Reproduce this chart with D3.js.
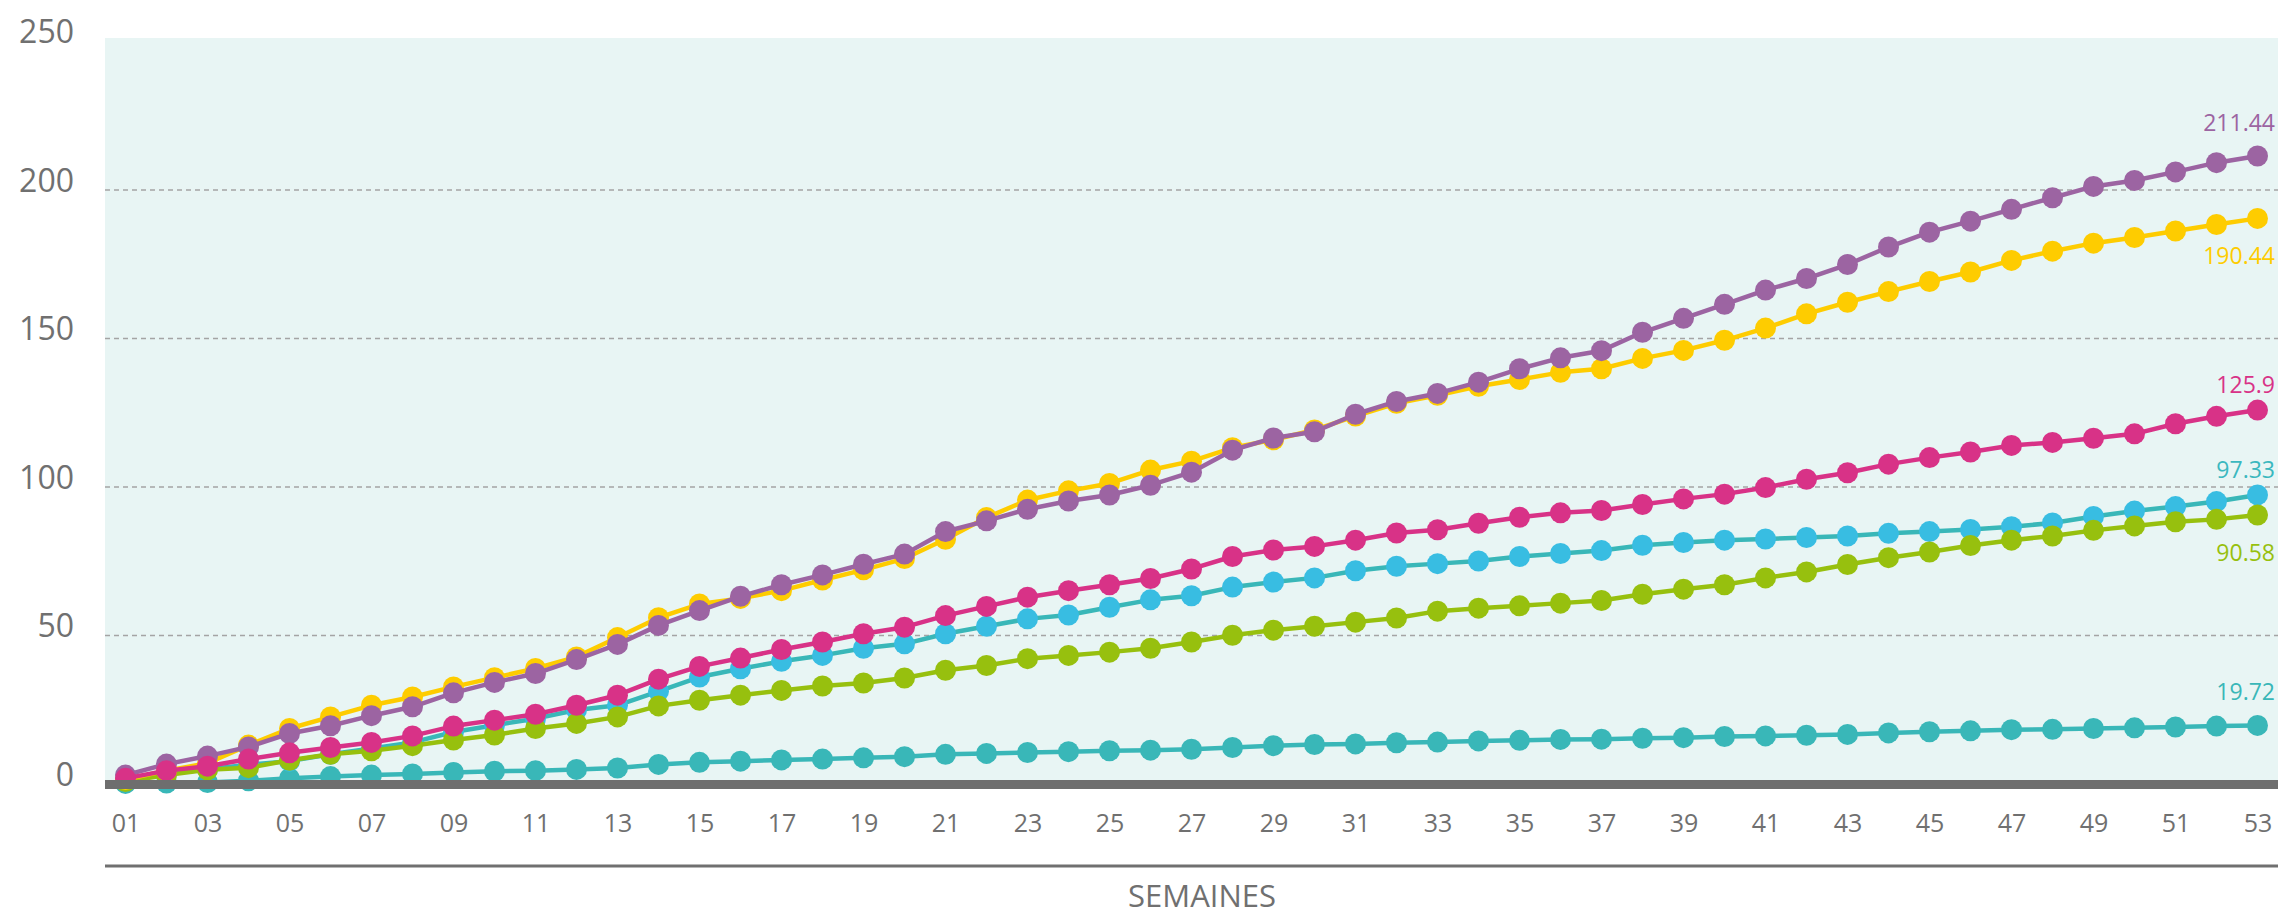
<!DOCTYPE html>
<html>
<head>
<meta charset="utf-8">
<script src="https://cdn.jsdelivr.net/npm/d3@7/dist/d3.min.js"></script>
<style>
  html, body { margin: 0; padding: 0; background: #ffffff; }
  svg { display: block; font-family: "Open Sans", "DejaVu Sans", sans-serif; }
</style>
</head>
<body>
<svg id="chart" width="2278" height="917"></svg>
<script>
// ---------- DATA ----------
const weeks = ["01","02","03","04","05","06","07","08","09","10","11","12","13","14","15","16","17","18","19","20",
  "21","22","23","24","25","26","27","28","29","30","31","32","33","34","35","36","37","38","39","40",
  "41","42","43","44","45","46","47","48","49","50","51","52","53"];
const weekTicks = ["01","03","05","07","09","11","13","15","17","19","21","23","25","27","29","31","33","35",
  "37","39","41","43","45","47","49","51","53"];
const yTicks = [0, 50, 100, 150, 200, 250];
const xAxisTitle = "SEMAINES";

const seriesTeal = [0.2,0.3,0.5,1.1,1.9,2.5,3.0,3.4,3.9,4.3,4.5,4.9,5.4,6.6,7.3,7.7,8.1,8.4,8.8,9.2,
  10.0,10.3,10.6,10.9,11.2,11.4,11.7,12.3,12.9,13.3,13.5,13.9,14.1,14.5,14.7,15.0,15.1,15.4,15.6,16.0,
  16.2,16.4,16.7,17.2,17.6,17.9,18.3,18.4,18.7,18.9,19.2,19.5,19.72];
const seriesBlue = [1.0,3.5,5.0,6.5,7.7,10.0,12.0,14.0,17.5,19.8,22.0,24.9,26.5,31.2,36.0,38.8,41.3,43.3,45.7,47.2,
  50.6,53.1,55.6,56.9,59.5,62.0,63.4,66.3,68.0,69.4,71.8,73.3,74.2,75.1,76.6,77.6,78.6,80.4,81.3,82.1,
  82.5,83.0,83.5,84.4,85.0,85.7,86.6,87.9,90.1,91.9,93.4,95.1,97.33];
const seriesGreen = [0.8,3.0,4.8,5.5,8.0,10.0,11.2,12.9,14.8,16.5,18.7,20.4,22.6,26.3,28.2,29.9,31.5,33.0,34.0,35.7,
  38.3,39.9,42.2,43.3,44.4,45.7,47.8,50.1,51.8,53.1,54.5,55.9,58.2,59.2,60.0,60.9,61.8,63.9,65.6,67.1,
  69.4,71.4,73.9,76.2,78.1,80.3,82.1,83.5,85.4,86.9,88.3,89.1,90.58];
const seriesYellow = [1.5,4.5,7.0,13.1,18.7,22.6,26.5,29.3,32.7,35.8,38.9,42.8,49.3,56.0,60.6,62.5,65.1,68.7,72.1,75.9,
  82.4,89.7,95.6,98.7,101.2,105.7,108.7,113.2,115.9,119.2,123.9,128.2,130.9,133.9,136.2,138.6,139.8,143.3,146.0,149.4,
  153.5,158.3,162.2,165.8,169.2,172.4,176.3,179.4,182.1,184.0,186.2,188.4,190.44];
const seriesPurple = [3.0,6.7,9.4,12.5,17.0,19.6,23.0,26.0,30.7,34.2,37.2,41.9,47.0,53.4,58.4,63.2,67.1,70.4,74.0,77.4,
  85.0,88.6,92.5,95.3,97.3,100.6,105.0,112.4,116.5,118.6,124.5,128.8,131.5,135.3,139.8,143.5,145.9,152.1,156.8,161.5,
  166.3,170.2,174.9,180.8,185.8,189.5,193.5,197.4,201.2,203.2,206.1,209.2,211.44];
const seriesMagenta = [1.9,4.5,6.0,8.4,10.5,12.3,14.0,16.2,19.5,21.5,23.5,26.5,29.9,35.3,39.6,42.4,45.3,47.8,50.6,52.8,
  56.7,59.8,62.9,65.1,67.1,69.2,72.4,76.6,78.8,80.0,82.1,84.5,85.6,87.8,89.8,91.3,92.1,94.1,96.0,97.6,
  99.8,102.6,104.8,107.7,109.9,111.8,114.0,115.0,116.4,117.9,121.3,123.8,125.9];

// ---------- STYLE ----------
const W = 2278, H = 917;
const plot = { left: 105, right: 2278, top: 38, bottom: 784 };
const styles = [
  { values: seriesTeal,    line: "#39b7b8", dot: "#39b7b8", label: "#39b7b8", dy: -25 },
  { values: seriesBlue,    line: "#39b7b8", dot: "#38bde2", label: "#3bb8bf", dy: -17 },
  { values: seriesGreen,   line: "#97c00e", dot: "#97c00e", label: "#97c00e", dy: 46 },
  { values: seriesYellow,  line: "#fecc00", dot: "#fecc00", label: "#fecc00", dy: 46 },
  { values: seriesPurple,  line: "#9c64a2", dot: "#9c64a2", label: "#9c64a2", dy: -25 },
  { values: seriesMagenta, line: "#d83287", dot: "#d83287", label: "#d83287", dy: -17 }
];
const grey = "#707070";

const svg = d3.select("#chart");
svg.append("rect").attr("width", W).attr("height", H).attr("fill", "#ffffff");

const x = d3.scalePoint().domain(weeks).range([plot.left, plot.right]).padding(0.5);
const y = d3.scaleLinear().domain([0, 250]).range([784, 41.5]);

// plot background
svg.append("rect")
  .attr("x", plot.left).attr("y", plot.top)
  .attr("width", plot.right - plot.left).attr("height", plot.bottom - plot.top)
  .attr("fill", "#e8f5f4");

// gridlines
svg.append("g").selectAll("line")
  .data(yTicks.filter(v => v > 0 && v < 250))
  .join("line")
  .attr("x1", plot.left).attr("x2", plot.right)
  .attr("y1", d => y(d)).attr("y2", d => y(d))
  .attr("stroke", "#a4a4a4").attr("stroke-width", 1.6)
  .attr("stroke-dasharray", "5,4");

// y axis labels
const yAxis = d3.axisLeft(y).tickValues(yTicks).tickSize(0).tickPadding(0).tickFormat(d3.format("d"));
const gy = svg.append("g").attr("transform", "translate(74,0)").call(yAxis);
gy.select(".domain").remove();
gy.selectAll("text")
  .attr("font-family", "'Open Sans', sans-serif")
  .attr("font-size", 32).attr("fill", grey)
  .attr("dy", "0").attr("y", 1)
  .attr("text-anchor", "end");

// series
const lineGen = d3.line().x((d, i) => x(weeks[i])).y(d => y(d));
styles.forEach(s => {
  const g = svg.append("g");
  g.append("path").datum(s.values)
    .attr("d", lineGen).attr("fill", "none")
    .attr("stroke", s.line).attr("stroke-width", 4.5)
    .attr("stroke-linejoin", "round");
  g.selectAll("circle").data(s.values).join("circle")
    .attr("cx", (d, i) => x(weeks[i])).attr("cy", d => y(d))
    .attr("r", 10.5).attr("fill", s.dot);
});

// x axis thick line
svg.append("rect")
  .attr("x", plot.left).attr("y", 780)
  .attr("width", plot.right - plot.left).attr("height", 9)
  .attr("fill", "#6e6e6e");

// end labels
styles.forEach(s => {
  const last = s.values[s.values.length - 1];
  svg.append("text")
    .attr("x", 2275).attr("y", y(last) + s.dy)
    .attr("text-anchor", "end")
    .attr("font-size", 23).attr("fill", s.label)
    .text(String(last));
});

// x axis tick labels
const xAxis = d3.axisBottom(x).tickValues(weekTicks).tickSize(0).tickPadding(0);
const gx = svg.append("g").call(xAxis);
gx.select(".domain").remove();
gx.selectAll("text")
  .attr("font-family", "'Open Sans', sans-serif")
  .attr("font-size", 25).attr("fill", grey)
  .attr("dy", "0").attr("y", 832);

// bottom thin line
svg.append("rect")
  .attr("x", plot.left).attr("y", 864.5)
  .attr("width", plot.right - plot.left).attr("height", 3)
  .attr("fill", grey);

// axis title
svg.append("text")
  .attr("x", 1202).attr("y", 907)
  .attr("text-anchor", "middle")
  .attr("font-size", 31).attr("fill", grey)
  .text(xAxisTitle);
</script>
</body>
</html>
